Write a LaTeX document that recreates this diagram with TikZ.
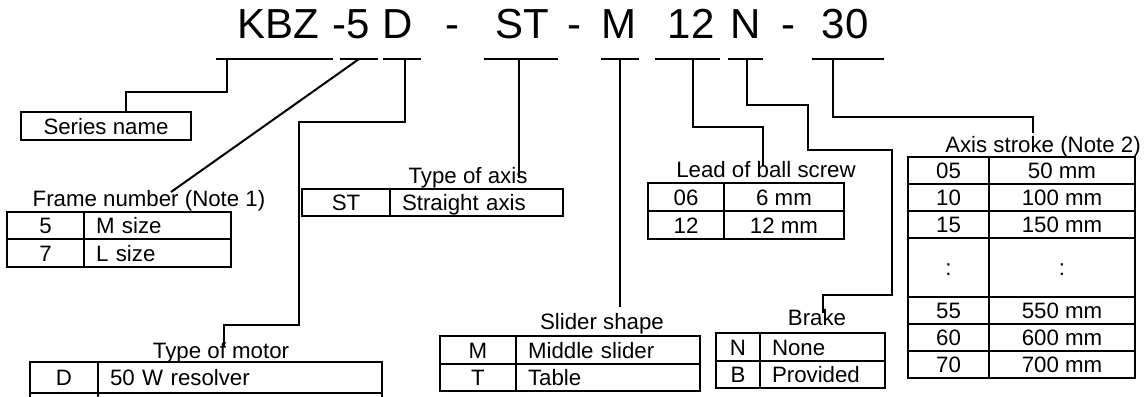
\documentclass[tikz,border=0pt]{standalone}
\usepackage{fontspec}
\setmainfont{Liberation Sans}
\usetikzlibrary{positioning}
\newdimen\pxu \pxu=0.75pt

\begin{document}
\begin{tikzpicture}[
  x=0.75pt, y=-0.75pt,
  line width=1.5pt,
  every node/.style={font=\fontsize{16.7}{20}\selectfont, inner sep=0pt, outer sep=0pt},
  code/.style={font=\fontsize{31.5}{36}\selectfont, anchor=base},
  title/.style={anchor=base},
  keyc/.style={draw, text height=16\pxu, text depth=0pt, align=center},
  valc/.style={draw, text height=16\pxu, text depth=0pt, inner xsep=12\pxu, align=left},
  lead/.style={line width=1.5pt}
]
\useasboundingbox (0,0) rectangle (1148,396);
\clip (0,0) rectangle (1148,396);

% MODEL CODE
\node[code] (kbz) at (278,38) {KBZ};
\node[code] (frm) at (351.5,38) {-5};
\node[code] (mot) at (398,38) {D};
\node[code] (sepa) at (452,38) {-};
\node[code] (ax) at (522,38) {ST};
\node[code] (sepb) at (574,38) {-};
\node[code] (sl) at (619,38) {M};
\node[code] (ld) at (691,38) {12};
\node[code] (br) at (746,38) {N};
\node[code] (sepc) at (788,38) {-};
\node[code] (str) at (845,38) {30};

\draw (216,59) -- (333,59);
\draw (340,59) -- (378,59);
\draw (383,59) -- (421,59);
\draw (484,59) -- (558,59);
\draw (601,59) -- (639,59);
\draw (655,59) -- (720,59);
\draw (728,59) -- (763,59);
\draw (812,59) -- (884,59);

% SERIES NAME
\node[keyc, minimum width=170\pxu, minimum height=28\pxu, anchor=north west] (series) at (21,112) {Series name};

% FRAME NUMBER
\node[title] (frmT) at (149,206) {Frame number (Note 1)};
\node[keyc, minimum width=77\pxu, minimum height=27\pxu, anchor=north west] (frm5) at (7,212) {5};
\node[valc, text width=123\pxu, minimum height=27\pxu, right=0pt of frm5] (frmM) {M size};
\node[keyc, minimum width=77\pxu, minimum height=28\pxu, below=0pt of frm5] (frm7) {7};
\node[valc, text width=123\pxu, minimum height=28\pxu, right=0pt of frm7] (frmL) {L size};

% TYPE OF MOTOR
\node[title] (motT) at (221,358) {Type of motor};
\node[keyc, minimum width=68\pxu, minimum height=31\pxu, anchor=north west] (motD) at (30,362) {D};
\node[valc, text width=260\pxu, minimum height=31\pxu, right=0pt of motD] (motR) {50 W resolver};
\draw (motD.south west) -- ++(0,6);
\draw (motD.south east) -- ++(0,6);
\draw (motR.south east) -- ++(0,6);

% TYPE OF AXIS
\node[title] (axT) at (468,183) {Type of axis};
\node[keyc, minimum width=88\pxu, minimum height=27\pxu, anchor=north west] (axST) at (302,189) {ST};
\node[valc, text width=149\pxu, minimum height=27\pxu, right=0pt of axST] (axS) {Straight axis};

% SLIDER SHAPE
\node[title] (slT) at (602,329) {Slider shape};
\node[keyc, minimum width=76\pxu, minimum height=28\pxu, anchor=north west] (slM) at (440,336) {M};
\node[valc, text width=160\pxu, minimum height=28\pxu, right=0pt of slM] (slMid) {Middle slider};
\node[keyc, minimum width=76\pxu, minimum height=27\pxu, below=0pt of slM] (slT2) {T};
\node[valc, text width=160\pxu, minimum height=27\pxu, right=0pt of slT2] (slTab) {Table};

% LEAD OF BALL SCREW
\node[title] (ldT) at (766,177) {Lead of ball screw};
\node[keyc, minimum width=76\pxu, minimum height=28\pxu, anchor=north west] (ld06) at (648,183) {06};
\node[keyc, minimum width=120\pxu, minimum height=28\pxu, right=0pt of ld06] (ld6) {6 mm};
\node[keyc, minimum width=76\pxu, minimum height=28\pxu, below=0pt of ld06] (ld12) {12};
\node[keyc, minimum width=120\pxu, minimum height=28\pxu, right=0pt of ld12] (ld12mm) {12 mm};

% BRAKE
\node[title] (brT) at (817,325) {Brake};
\node[keyc, minimum width=44\pxu, minimum height=28\pxu, anchor=north west] (brN) at (716,333) {N};
\node[valc, text width=101\pxu, minimum height=28\pxu, right=0pt of brN] (brNone) {None};
\node[keyc, minimum width=44\pxu, minimum height=27\pxu, below=0pt of brN] (brB) {B};
\node[valc, text width=101\pxu, minimum height=27\pxu, right=0pt of brB] (brProv) {Provided};

% AXIS STROKE
\node[title] (strT) at (1043,152) {Axis stroke (Note 2)};
\node[keyc, minimum width=81\pxu, minimum height=27\pxu, anchor=north west] (s05) at (908,157) {05};
\node[keyc, minimum width=146\pxu, minimum height=27\pxu, right=0pt of s05] (s50) {50 mm};
\node[keyc, minimum width=81\pxu, minimum height=27\pxu, below=0pt of s05] (s10) {10};
\node[keyc, minimum width=146\pxu, minimum height=27\pxu, right=0pt of s10] (s100) {100 mm};
\node[keyc, minimum width=81\pxu, minimum height=27\pxu, below=0pt of s10] (s15) {15};
\node[keyc, minimum width=146\pxu, minimum height=27\pxu, right=0pt of s15] (s150) {150 mm};
\node[keyc, minimum width=81\pxu, minimum height=59\pxu, below=0pt of s15] (sdk) {:};
\node[keyc, minimum width=146\pxu, minimum height=59\pxu, right=0pt of sdk] (sdv) {:};
\node[keyc, minimum width=81\pxu, minimum height=27\pxu, below=0pt of sdk] (s55) {55};
\node[keyc, minimum width=146\pxu, minimum height=27\pxu, right=0pt of s55] (s550) {550 mm};
\node[keyc, minimum width=81\pxu, minimum height=27\pxu, below=0pt of s55] (s60) {60};
\node[keyc, minimum width=146\pxu, minimum height=27\pxu, right=0pt of s60] (s600) {600 mm};
\node[keyc, minimum width=81\pxu, minimum height=27\pxu, below=0pt of s60] (s70) {70};
\node[keyc, minimum width=146\pxu, minimum height=27\pxu, right=0pt of s70] (s700) {700 mm};

% LEADER LINES
\coordinate (uSer) at (227,59);
\coordinate (uFrm) at (359,59);
\coordinate (uMot) at (405,59);
\coordinate (uAx) at (519,59);
\coordinate (uSl) at (620,59);
\coordinate (uLd) at (693,59);
\coordinate (uBr) at (747,59);
\coordinate (uStr) at (833,59);
\coordinate (eSer) at (126,112);
\coordinate (eFrm) at (171,192);
\coordinate (eMot) at (224,347);
\coordinate (eAx) at (519,178);
\coordinate (eSl) at (620,307);
\coordinate (eLd) at (763,166);
\coordinate (eBr) at (823,313);
\coordinate (eStr) at (1033,133);

\draw[lead] (uSer) -- (227,92) -| (eSer);
\draw[lead] (uFrm) -- (eFrm);
\draw[lead] (uMot) -- (405,122) -- (299,122) -- (299,325) -| (eMot);
\draw[lead] (uAx) -- (eAx);
\draw[lead] (uSl) -- (eSl);
\draw[lead] (uLd) -- (693,127) -| (eLd);
\draw[lead] (uBr) -- (747,105) -- (808,105) -- (808,150) -- (892,150) -- (892,295) -| (eBr);
\draw[lead] (uStr) -- (833,117) -| (eStr);

\end{tikzpicture}
\end{document}
